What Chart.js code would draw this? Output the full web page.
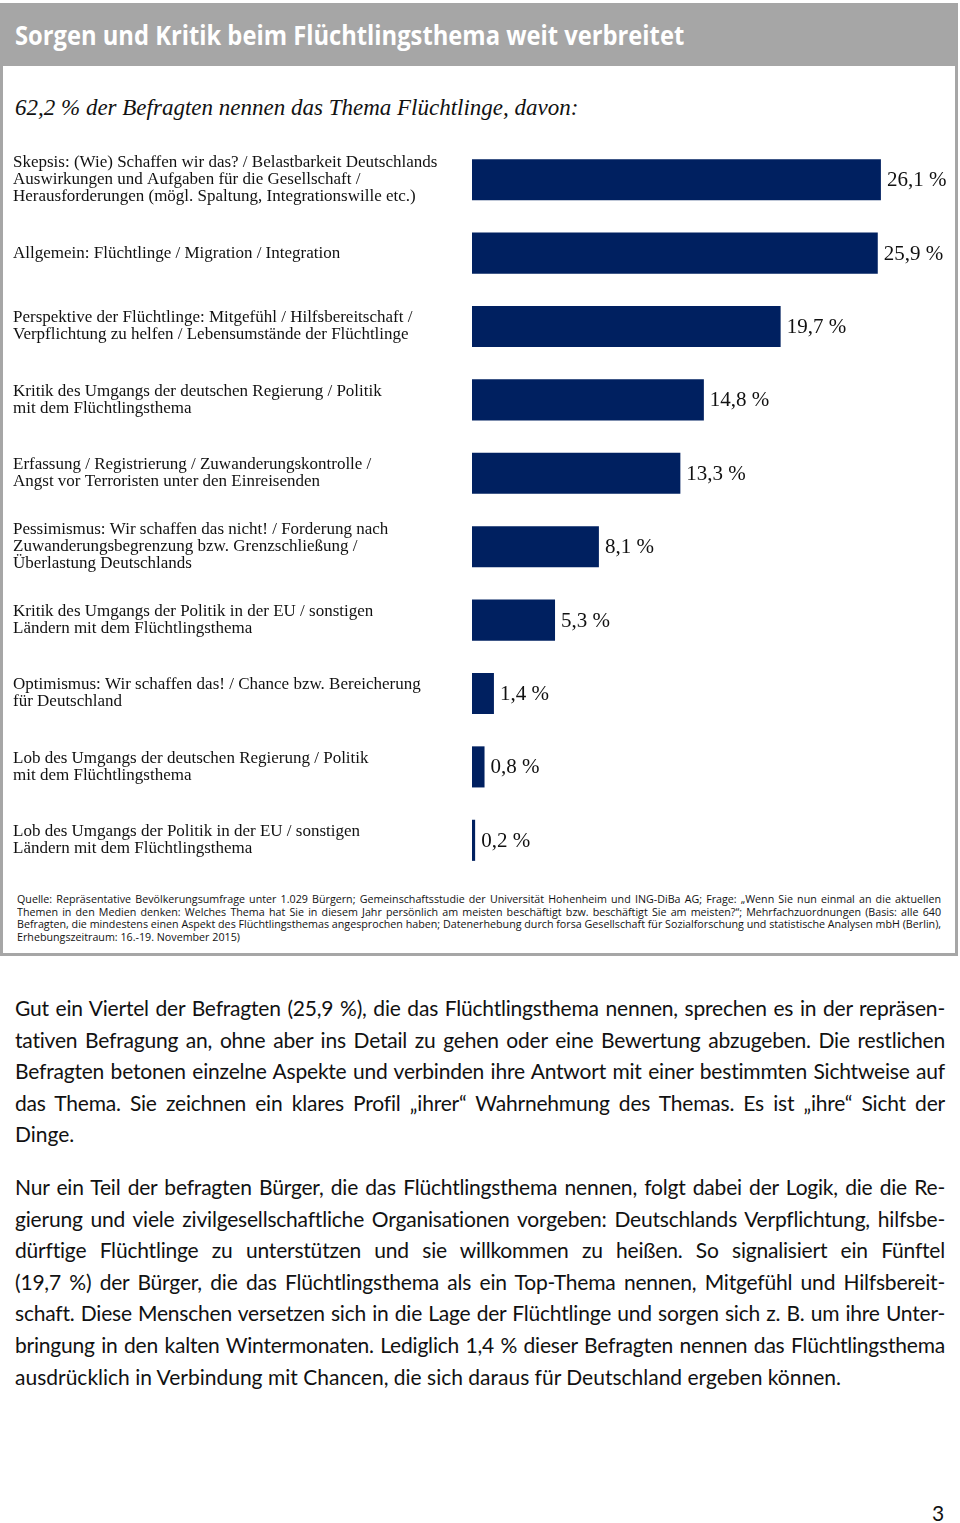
<!DOCTYPE html>
<html lang="de">
<head>
<meta charset="utf-8">
<script src="https://cdn.jsdelivr.net/npm/chart.js@4"></script>
<style>
  html, body { margin: 0; padding: 0; background: #fff; }
  body { width: 960px; height: 1523px; position: relative; overflow: hidden; color: #111; }
  #box { position: absolute; left: 0; top: 3px; width: 952px; height: 950px; border: 3px solid #a6a6a6; border-top: none; }
  #head { position: absolute; left: 0; top: 3px; width: 958px; height: 63px; background: #a6a6a6; }
  #title { position: absolute; left: 15px; top: 17px; font-family: "Open Sans", sans-serif; font-weight: bold; font-size: 26px; color: #fff; white-space: nowrap; transform-origin: 0 0; transform: scaleX(0.913); }
  #sub { position: absolute; left: 15px; top: 95px; font-family: "Liberation Serif", serif; font-style: italic; font-size: 23px; white-space: nowrap; }
  #chartWrap { position: absolute; left: 0; top: 140px; width: 960px; height: 740px; }
  #foot { position: absolute; left: 17px; top: 893px; font-family: "Open Sans", sans-serif; font-size: 11.3px; line-height: 12.5px; transform-origin: 0 0; white-space: nowrap; }
  #foot .fj { text-align: justify; text-align-last: justify; }
  .txt { position: absolute; left: 15px; width: 930px; font-family: "Lato", sans-serif; font-size: 21px; line-height: 31.6px; }
  .j { text-align: justify; text-align-last: justify; white-space: nowrap; letter-spacing: -0.2px; }
  .l { white-space: nowrap; }
  #p1 { top: 992px; }
  #p2 { top: 1171px; }
  #page { position: absolute; left: 932px; top: 1500px; font-family: "Lato", sans-serif; font-size: 21px; }
</style>
</head>
<body>
<div id="head"></div>
<div id="box"></div>
<div id="title">Sorgen und Kritik beim Flüchtlingsthema weit verbreitet</div>
<div id="sub">62,2 % der Befragten nennen das Thema Flüchtlinge, davon:</div>
<div id="chartWrap"><canvas id="c" width="960" height="740" style="width:960px;height:740px"></canvas></div>
<div id="foot">
<div class="fj" id="f1">Quelle: Repräsentative Bevölkerungsumfrage unter 1.029 Bürgern; Gemeinschaftsstudie der Universität Hohenheim und ING-DiBa AG; Frage: „Wenn Sie nun einmal an die aktuellen</div>
<div class="fj">Themen in den Medien denken: Welches Thema hat Sie in diesem Jahr persönlich am meisten beschäftigt bzw. beschäftigt Sie am meisten?“; Mehrfachzuordnungen (Basis: alle 640</div>
<div class="fj">Befragten, die mindestens einen Aspekt des Flüchtlingsthemas angesprochen haben; Datenerhebung durch forsa Gesellschaft für Sozialforschung und statistische Analysen mbH (Berlin),</div>
<div>Erhebungszeitraum: 16.-19. November 2015)</div>
</div>
<div class="txt" id="p1">
<div class="j">Gut ein Viertel der Befragten (25,9 %), die das Flüchtlingsthema nennen, sprechen es in der repräsen-</div>
<div class="j">tativen Befragung an, ohne aber ins Detail zu gehen oder eine Bewertung abzugeben. Die restlichen</div>
<div class="j">Befragten betonen einzelne Aspekte und verbinden ihre Antwort mit einer bestimmten Sichtweise auf</div>
<div class="j">das Thema. Sie zeichnen ein klares Profil „ihrer“ Wahrnehmung des Themas. Es ist „ihre“ Sicht der</div>
<div class="l">Dinge.</div>
</div>
<div class="txt" id="p2">
<div class="j">Nur ein Teil der befragten Bürger, die das Flüchtlingsthema nennen, folgt dabei der Logik, die die Re-</div>
<div class="j">gierung und viele zivilgesellschaftliche Organisationen vorgeben: Deutschlands Verpflichtung, hilfsbe-</div>
<div class="j">dürftige Flüchtlinge zu unterstützen und sie willkommen zu heißen. So signalisiert ein Fünftel</div>
<div class="j">(19,7 %) der Bürger, die das Flüchtlingsthema als ein Top-Thema nennen, Mitgefühl und Hilfsbereit-</div>
<div class="j">schaft. Diese Menschen versetzen sich in die Lage der Flüchtlinge und sorgen sich z. B. um ihre Unter-</div>
<div class="j">bringung in den kalten Wintermonaten. Lediglich 1,4 % dieser Befragten nennen das Flüchtlingsthema</div>
<div class="l">ausdrücklich in Verbindung mit Chancen, die sich daraus für Deutschland ergeben können.</div>
</div>
<div id="page">3</div>
<script>
// fit the footnote block to the box width (condensed look)
(function () {
  const foot = document.getElementById('foot');
  const f1 = document.getElementById('f1');
  const natural = f1.scrollWidth;
  const target = 924;
  const s = target / natural;
  foot.style.width = natural + 'px';
  foot.style.transform = 'scaleX(' + s + ')';
})();

const categories = [
  ["Skepsis: (Wie) Schaffen wir das? / Belastbarkeit Deutschlands", "Auswirkungen und Aufgaben für die Gesellschaft /", "Herausforderungen (mögl. Spaltung, Integrationswille etc.)"],
  ["Allgemein: Flüchtlinge / Migration / Integration"],
  ["Perspektive der Flüchtlinge: Mitgefühl / Hilfsbereitschaft /", "Verpflichtung zu helfen / Lebensumstände der Flüchtlinge"],
  ["Kritik des Umgangs der deutschen Regierung / Politik", "mit dem Flüchtlingsthema"],
  ["Erfassung / Registrierung / Zuwanderungskontrolle /", "Angst vor Terroristen unter den Einreisenden"],
  ["Pessimismus: Wir schaffen das nicht! / Forderung nach", "Zuwanderungsbegrenzung bzw. Grenzschließung /", "Überlastung Deutschlands"],
  ["Kritik des Umgangs der Politik in der EU / sonstigen", "Ländern mit dem Flüchtlingsthema"],
  ["Optimismus: Wir schaffen das! / Chance bzw. Bereicherung", "für Deutschland"],
  ["Lob des Umgangs der deutschen Regierung / Politik", "mit dem Flüchtlingsthema"],
  ["Lob des Umgangs der Politik in der EU / sonstigen", "Ländern mit dem Flüchtlingsthema"]
];
const values = [26.1, 25.9, 19.7, 14.8, 13.3, 8.1, 5.3, 1.4, 0.8, 0.2];
const valueLabels = ["26,1 %", "25,9 %", "19,7 %", "14,8 %", "13,3 %", "8,1 %", "5,3 %", "1,4 %", "0,8 %", "0,2 %"];

const valueLabelPlugin = {
  id: 'valueLabels',
  afterDatasetsDraw(chart) {
    const ctx = chart.ctx;
    const meta = chart.getDatasetMeta(0);
    ctx.save();
    ctx.font = '21px "Liberation Serif", serif';
    ctx.fillStyle = '#111';
    ctx.textAlign = 'left';
    ctx.textBaseline = 'middle';
    meta.data.forEach((bar, i) => {
      ctx.fillText(valueLabels[i], bar.x + 6, bar.y + 1);
    });
    ctx.restore();
  }
};

new Chart(document.getElementById('c'), {
  type: 'bar',
  data: {
    labels: categories,
    datasets: [{
      data: values,
      backgroundColor: '#002060',
      borderWidth: 0,
      categoryPercentage: 1,
      barPercentage: 0.56
    }]
  },
  options: {
    indexAxis: 'y',
    responsive: false,
    animation: false,
    devicePixelRatio: 1,
    layout: { padding: { left: 13, right: 18, top: 3, bottom: 3 } },
    plugins: { legend: { display: false }, tooltip: { enabled: false } },
    scales: {
      x: { display: false, min: 0, max: 30 },
      y: {
        grid: { display: false },
        border: { display: false },
        afterFit(scale) { scale.width = 459; scale.paddingTop = 0; scale.paddingBottom = 0; },
        ticks: {
          autoSkip: false,
          crossAlign: 'far',
          color: '#111',
          font: { family: '"Liberation Serif", serif', size: 17, lineHeight: 1.0 }
        }
      }
    }
  },
  plugins: [valueLabelPlugin]
});
</script>
</body>
</html>
